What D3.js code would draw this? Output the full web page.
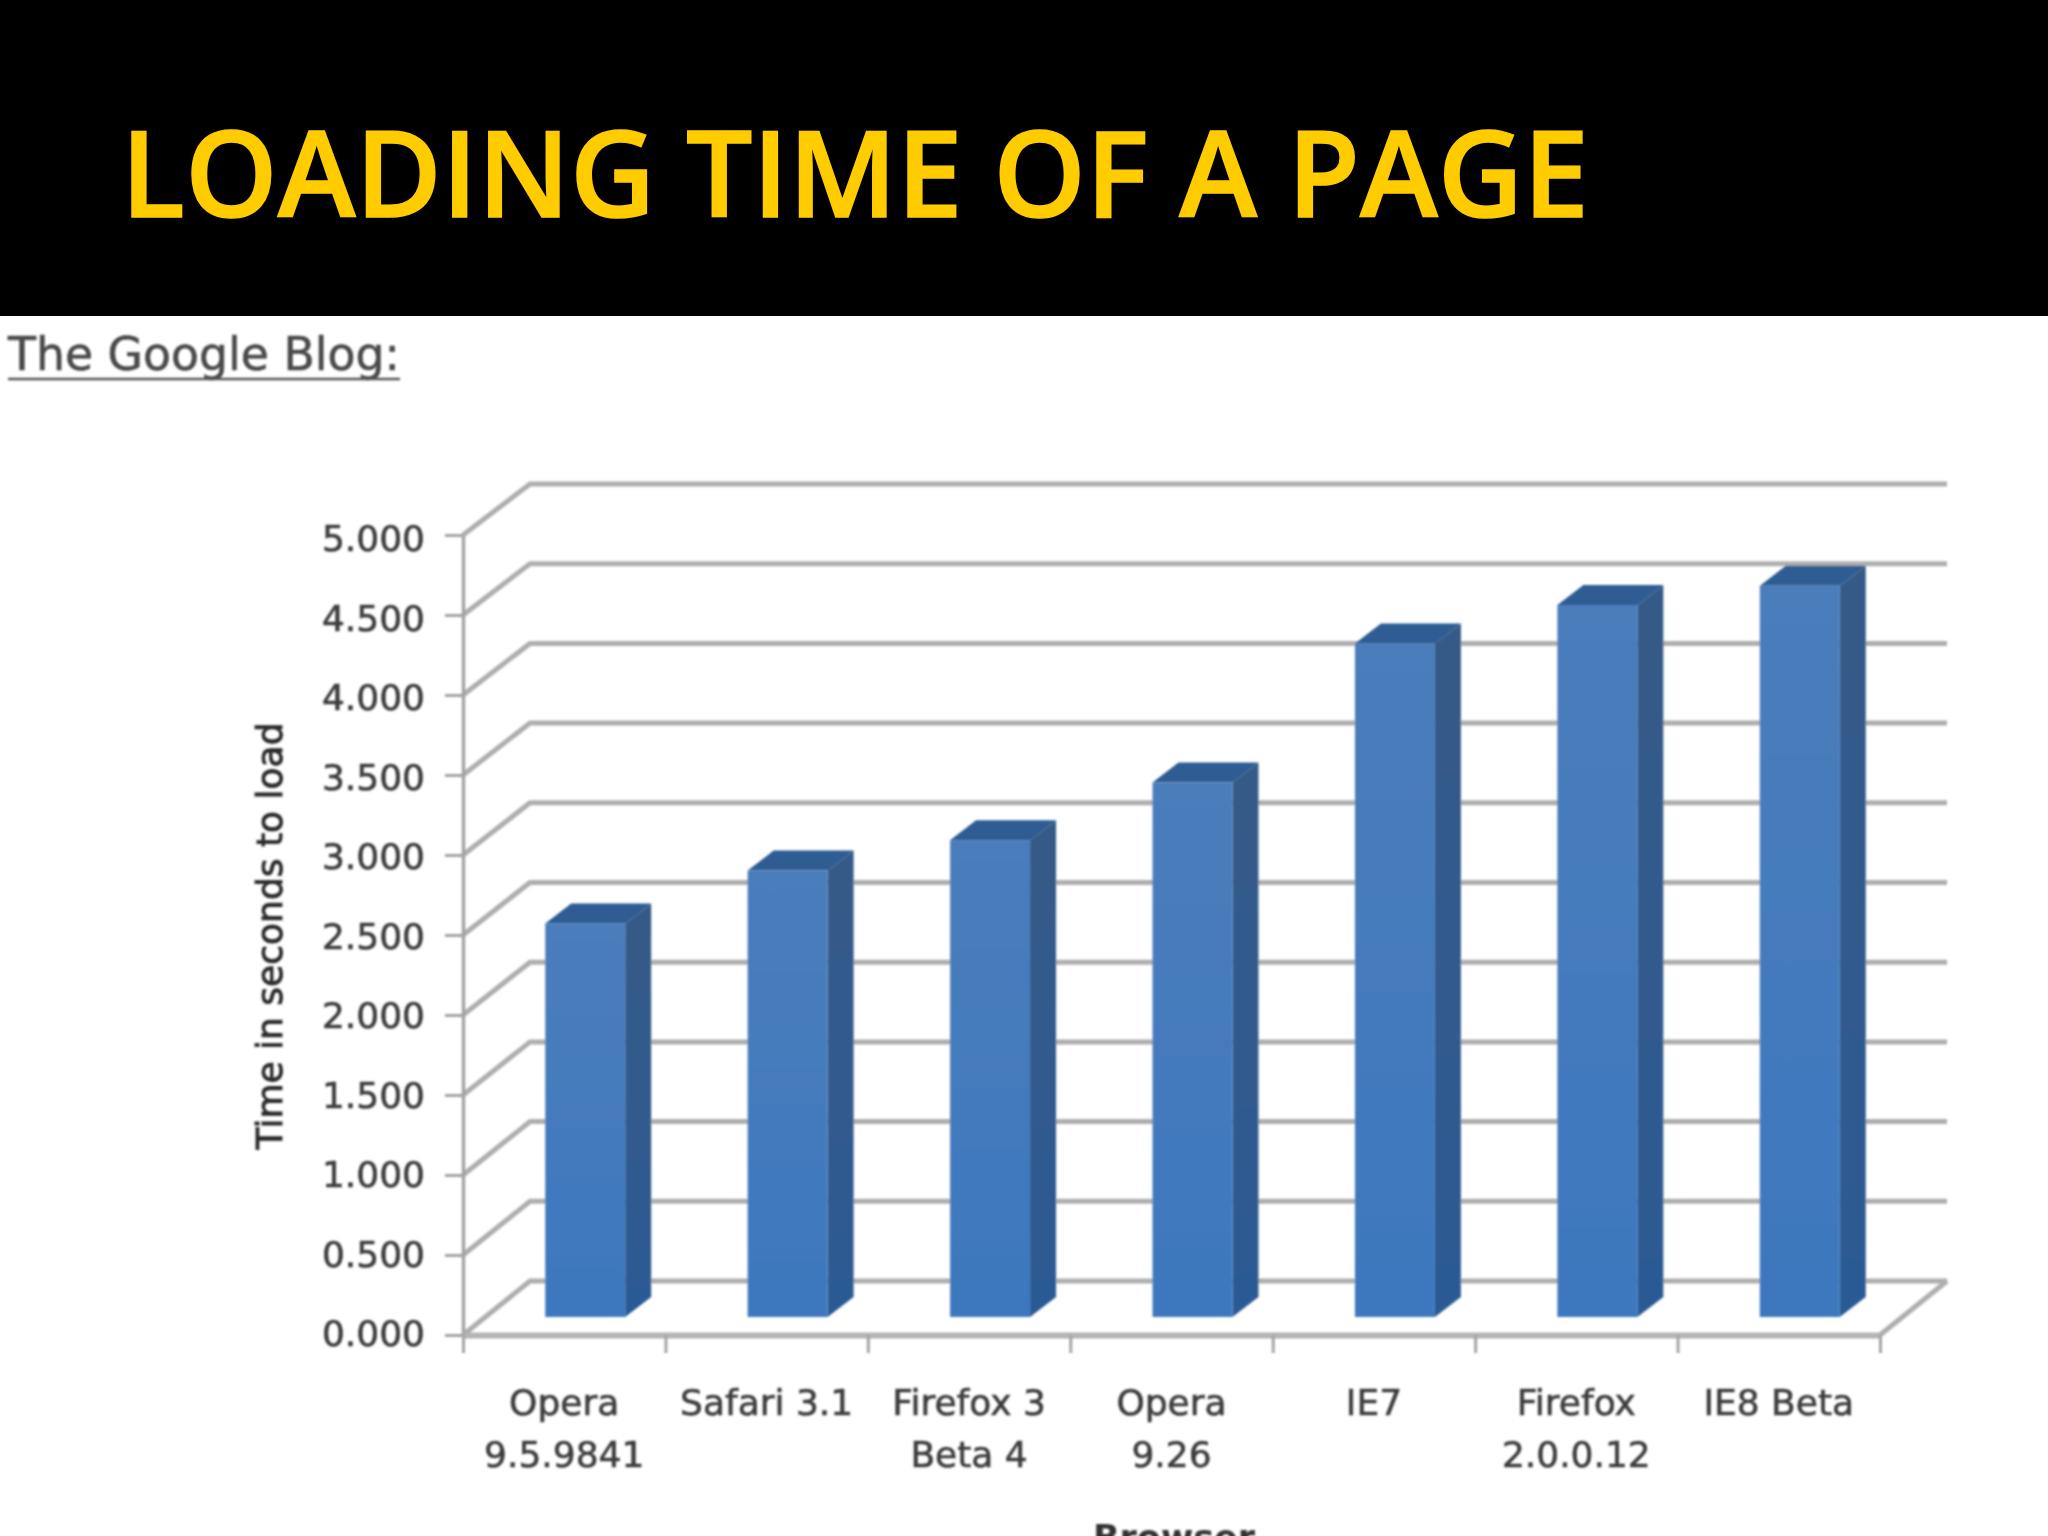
<!DOCTYPE html>
<html>
<head>
<meta charset="utf-8">
<script src="https://cdn.jsdelivr.net/npm/d3@7"></script>
<style>
  html, body { margin: 0; padding: 0; background: #fff; }
  svg { display: block; }
  .axis text, .cat { font-family: "DejaVu Sans", sans-serif; fill: #3c3c3c; stroke: #3c3c3c; stroke-width: 0.6px; }
</style>
</head>
<body>
<div id="chart"></div>
<script>
// browsers and the load time
const categories = [["Opera", "9.5.9841"], ["Safari 3.1"], ["Firefox 3", "Beta 4"], ["Opera", "9.26"], ["IE7"], ["Firefox", "2.0.0.12"], ["IE8 Beta"]];
const loadTimes = [2.46, 2.79, 2.98, 3.34, 4.21, 4.45, 4.57];
const yTicks = [0, 0.5, 1, 1.5, 2, 2.5, 3, 3.5, 4, 4.5, 5];

var svg = d3.select("#chart").append("svg").attr("width", 2048).attr("height", 1536);

var defs = svg.append("defs");
var soft = defs.append("filter").attr("id", "soft");
soft.append("feGaussianBlur").attr("stdDeviation", 1);

function grad(id, top, bottom) {
    var g = defs.append("linearGradient").attr("id", id).attr("x1", 0).attr("y1", 0).attr("x2", 0).attr("y2", 1);
    g.append("stop").attr("offset", "0%").attr("stop-color", top);
    g.append("stop").attr("offset", "100%").attr("stop-color", bottom);
}
grad("frontFill", "#4b7dbb", "#3d78be");
grad("sideFill", "#365a87", "#2c5a94");

// title band
svg.append("rect").attr("width", 2048).attr("height", 316).attr("fill", "#000");
svg.append("text").attr("x", 121).attr("y", 217)
    .attr("font-family", "Open Sans").attr("font-weight", 600).attr("font-size", 119)
    .attr("textLength", 1468).attr("lengthAdjust", "spacingAndGlyphs")
    .attr("fill", "#ffcc00").attr("stroke", "#ffcc00").attr("stroke-width", 1.5)
    .text("LOADING TIME OF A PAGE");

var page = svg.append("g").attr("filter", "url(#soft)");

page.append("text").attr("x", 8).attr("y", 370)
    .attr("font-family", "DejaVu Sans").attr("font-size", 46)
    .attr("textLength", 392).attr("lengthAdjust", "spacingAndGlyphs")
    .attr("fill", "#4a4a4a").attr("stroke", "#4a4a4a").attr("stroke-width", 0.6).text("The Google Blog:");
page.append("line").attr("x1", 8).attr("x2", 400).attr("y1", 379).attr("y2", 379)
    .attr("stroke", "#555").attr("stroke-width", 2.5);

// scales: front plane of the 3d box and its back wall
var y = d3.scaleLinear().domain([0, 5]).range([1335, 535]);
var yWall = d3.scaleLinear().domain([0, 5]).range([1281, 484]);
var yLabel = d3.scaleLinear().domain([0, 5]).range([1333, 538]);
var xEdges = d3.scaleLinear().domain([0, categories.length]).range([463, 1880]);
var x = d3.scaleBand().domain(d3.range(categories.length)).range([463, 1880])
    .paddingInner(0.605).paddingOuter(0.3025);

// how far the back wall and the bars sit behind the front plane
const wallX = 530, wallEnd = 1947;
const barFront = {dx: 21, dy: 18};
const barBack = {dx: 47, dy: 38};
const gridColor = "#aeaeae";

// walls
var grid = page.append("g").attr("fill", "none").attr("stroke", gridColor).attr("stroke-width", 5);
grid.selectAll("path").data(yTicks).enter().append("path")
    .attr("d", function (d) {
        return "M" + xEdges(0) + "," + y(d) + "L" + wallX + "," + yWall(d) + "H" + wallEnd;
    });
grid.append("path")
    .attr("d", "M" + xEdges(7) + "," + y(0) + "L" + wallEnd + "," + yWall(0));

// bars
var bars = page.selectAll("g.bar").data(loadTimes).enter().append("g").attr("class", "bar");

bars.append("path").attr("fill", "#2f5c93").attr("d", function (d, i) {
    var l = x(i), r = l + x.bandwidth(), t = y(d);
    return "M" + (l + barFront.dx) + "," + (t - barFront.dy)
        + "L" + (l + barBack.dx) + "," + (t - barBack.dy)
        + "L" + (r + barBack.dx) + "," + (t - barBack.dy)
        + "L" + (r + barFront.dx) + "," + (t - barFront.dy) + "Z";
});
bars.append("path").attr("fill", "url(#sideFill)").attr("d", function (d, i) {
    var r = x(i) + x.bandwidth(), t = y(d), b = y(0);
    return "M" + (r + barFront.dx) + "," + (t - barFront.dy)
        + "L" + (r + barBack.dx) + "," + (t - barBack.dy)
        + "L" + (r + barBack.dx) + "," + (b - barBack.dy)
        + "L" + (r + barFront.dx) + "," + (b - barFront.dy) + "Z";
});
bars.append("rect").attr("fill", "url(#frontFill)")
    .attr("x", function (d, i) { return x(i) + barFront.dx; })
    .attr("y", function (d) { return y(d) - barFront.dy; })
    .attr("width", x.bandwidth())
    .attr("height", function (d) { return y(0) - y(d); });

// y axis
var yAxis = page.append("g").attr("class", "axis").attr("transform", "translate(463,0)")
    .call(d3.axisLeft(y).tickValues(yTicks).tickFormat(d3.format(".3f")).tickSize(18).tickPadding(20).tickSizeOuter(0));
yAxis.selectAll("text").attr("font-size", 36)
    .attr("y", function (d) { return yLabel(d) - y(d); }).attr("dy", "0.36em");
yAxis.selectAll("line").attr("stroke", "#a4a4a4").attr("stroke-width", 3);
yAxis.select(".domain").attr("stroke", "#a4a4a4").attr("stroke-width", 3.5);

// x axis, ticks sit between the bars
var xAxis = page.append("g").attr("class", "axis").attr("transform", "translate(0,1335)")
    .call(d3.axisBottom(xEdges).tickValues(d3.range(categories.length + 1)).tickFormat("").tickSize(18).tickSizeOuter(0));
xAxis.selectAll("line").attr("stroke", "#a4a4a4").attr("stroke-width", 3);
xAxis.select(".domain").attr("stroke", "#b4b4b4").attr("stroke-width", 6);

var labels = page.selectAll("text.cat").data(categories).enter().append("text").attr("class", "cat")
    .attr("text-anchor", "middle").attr("font-size", 36);
labels.selectAll("tspan").data(function (d, i) { return d.map(function (s) { return {s: s, i: i}; }); })
    .enter().append("tspan")
    .attr("x", function (d) { return x(d.i) + x.bandwidth() / 2; })
    .attr("y", function (d, j) { return 1415 + j * 52; })
    .text(function (d) { return d.s; });

// axis titles
page.append("text").attr("transform", "translate(282,936) rotate(-90)")
    .attr("text-anchor", "middle").attr("font-family", "DejaVu Sans").attr("font-size", 36)
    .attr("textLength", 427).attr("lengthAdjust", "spacingAndGlyphs")
    .attr("fill", "#2c2c2c").attr("stroke", "#2c2c2c").attr("stroke-width", 0.9).text("Time in seconds to load");
page.append("text").attr("x", 1174).attr("y", 1550)
    .attr("text-anchor", "middle").attr("font-family", "DejaVu Sans").attr("font-weight", 700).attr("font-size", 35)
    .attr("fill", "#333").text("Browser");
</script>
</body>
</html>
